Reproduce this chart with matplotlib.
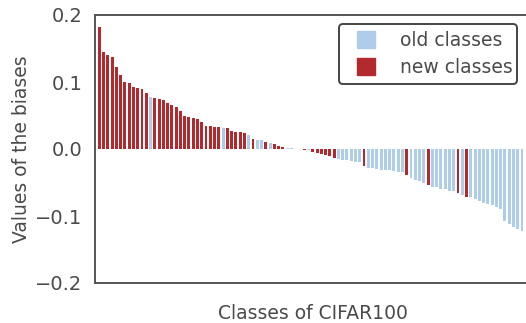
import numpy as np
import matplotlib
matplotlib.use("Agg")
import matplotlib.pyplot as plt
from matplotlib.patches import Patch, FancyBboxPatch
from matplotlib.transforms import IdentityTransform

# bias value of each CIFAR100 class, sorted from largest to smallest
biases = [
    0.182, 0.145, 0.140, 0.138, 0.122, 0.110, 0.100, 0.099, 0.093, 0.091,
    0.089, 0.083, 0.077, 0.076, 0.075, 0.073, 0.068, 0.066, 0.062, 0.057,
    0.050, 0.048, 0.046, 0.045, 0.040, 0.035, 0.034, 0.033, 0.033, 0.032,
    0.031, 0.027, 0.026, 0.026, 0.024, 0.021, 0.015, 0.013, 0.013, 0.011,
    0.009, 0.008, 0.004, 0.003, 0.0015, 0.001, 0.0005, 0.0003, -0.002, -0.002,
    -0.004, -0.006, -0.007, -0.009, -0.011, -0.014, -0.015, -0.016, -0.017, -0.018,
    -0.019, -0.020, -0.025, -0.028, -0.029, -0.030, -0.031, -0.031, -0.032, -0.033,
    -0.034, -0.035, -0.039, -0.044, -0.046, -0.048, -0.050, -0.054, -0.056, -0.057,
    -0.059, -0.060, -0.062, -0.063, -0.065, -0.068, -0.071, -0.072, -0.075, -0.078,
    -0.080, -0.082, -0.084, -0.087, -0.090, -0.107, -0.112, -0.117, -0.120, -0.123,
]

# 1 = new class, 0 = old class
is_new = [
    1, 1, 1, 1, 1, 1, 1, 1, 1, 1,
    1, 1, 0, 1, 1, 1, 1, 1, 1, 1,
    1, 1, 1, 1, 1, 1, 1, 1, 1, 0,
    1, 1, 1, 1, 1, 0, 1, 0, 0, 1,
    0, 1, 1, 1, 0, 0, 0, 0, 1, 0,
    1, 1, 1, 1, 1, 1, 0, 0, 0, 0,
    0, 0, 1, 0, 0, 0, 0, 0, 0, 0,
    0, 0, 1, 0, 0, 0, 0, 1, 0, 0,
    0, 0, 0, 0, 1, 0, 1, 0, 0, 0,
    0, 0, 0, 0, 0, 0, 0, 0, 0, 0,
]

old_color = "#adcde9"
new_color = "#b22a2e"
text_color = "#4a4a4a"

W, H = 526, 323
fig = plt.figure(figsize=(W / 100, H / 100), dpi=100)
# right edge runs just past the canvas, so no right spine shows
ax = fig.add_axes([95 / W, 1 - 283 / H, 436 / W, 268 / H])

x = np.arange(len(biases))
colors = [new_color if n else old_color for n in is_new]
ax.bar(x, biases, width=0.68, color=colors, linewidth=0)

ax.set_xlim(-1.0, 101.1)
ax.set_ylim(-0.2, 0.2)
ax.set_yticks([-0.2, -0.1, 0.0, 0.1, 0.2])
ax.set_xticks([])
ax.tick_params(axis="y", length=0, pad=9, labelsize=14, labelcolor=text_color)

for s in ax.spines.values():
    s.set_color("#555555")
    s.set_linewidth(1.4)

ax.set_ylabel("Values of the biases", fontsize=13.5, color=text_color, labelpad=3)
ax.set_xlabel("Classes of CIFAR100", fontsize=13.5, color=text_color, labelpad=15)

handles = [Patch(color=old_color, label="old classes"),
           Patch(color=new_color, label="new classes")]
leg = fig.legend(handles=handles, loc="upper left",
                 bbox_to_anchor=(357 / W, 1 - 31 / H),
                 fontsize=13.5, frameon=False,
                 handlelength=0.95, handleheight=1.0, handletextpad=1.35,
                 borderpad=0, labelspacing=0.42, borderaxespad=0)
leg.set_zorder(5)
for t in leg.get_texts():
    t.set_color(text_color)

# legend frame, in pixels (origin bottom left)
frame = FancyBboxPatch((339, H - 84), 178, 60,
                       boxstyle="round,pad=0,rounding_size=4",
                       transform=IdentityTransform(), facecolor="white",
                       edgecolor="#444444", linewidth=1.4, zorder=4)
fig.patches.append(frame)

fig.savefig("out.png", dpi=100)
